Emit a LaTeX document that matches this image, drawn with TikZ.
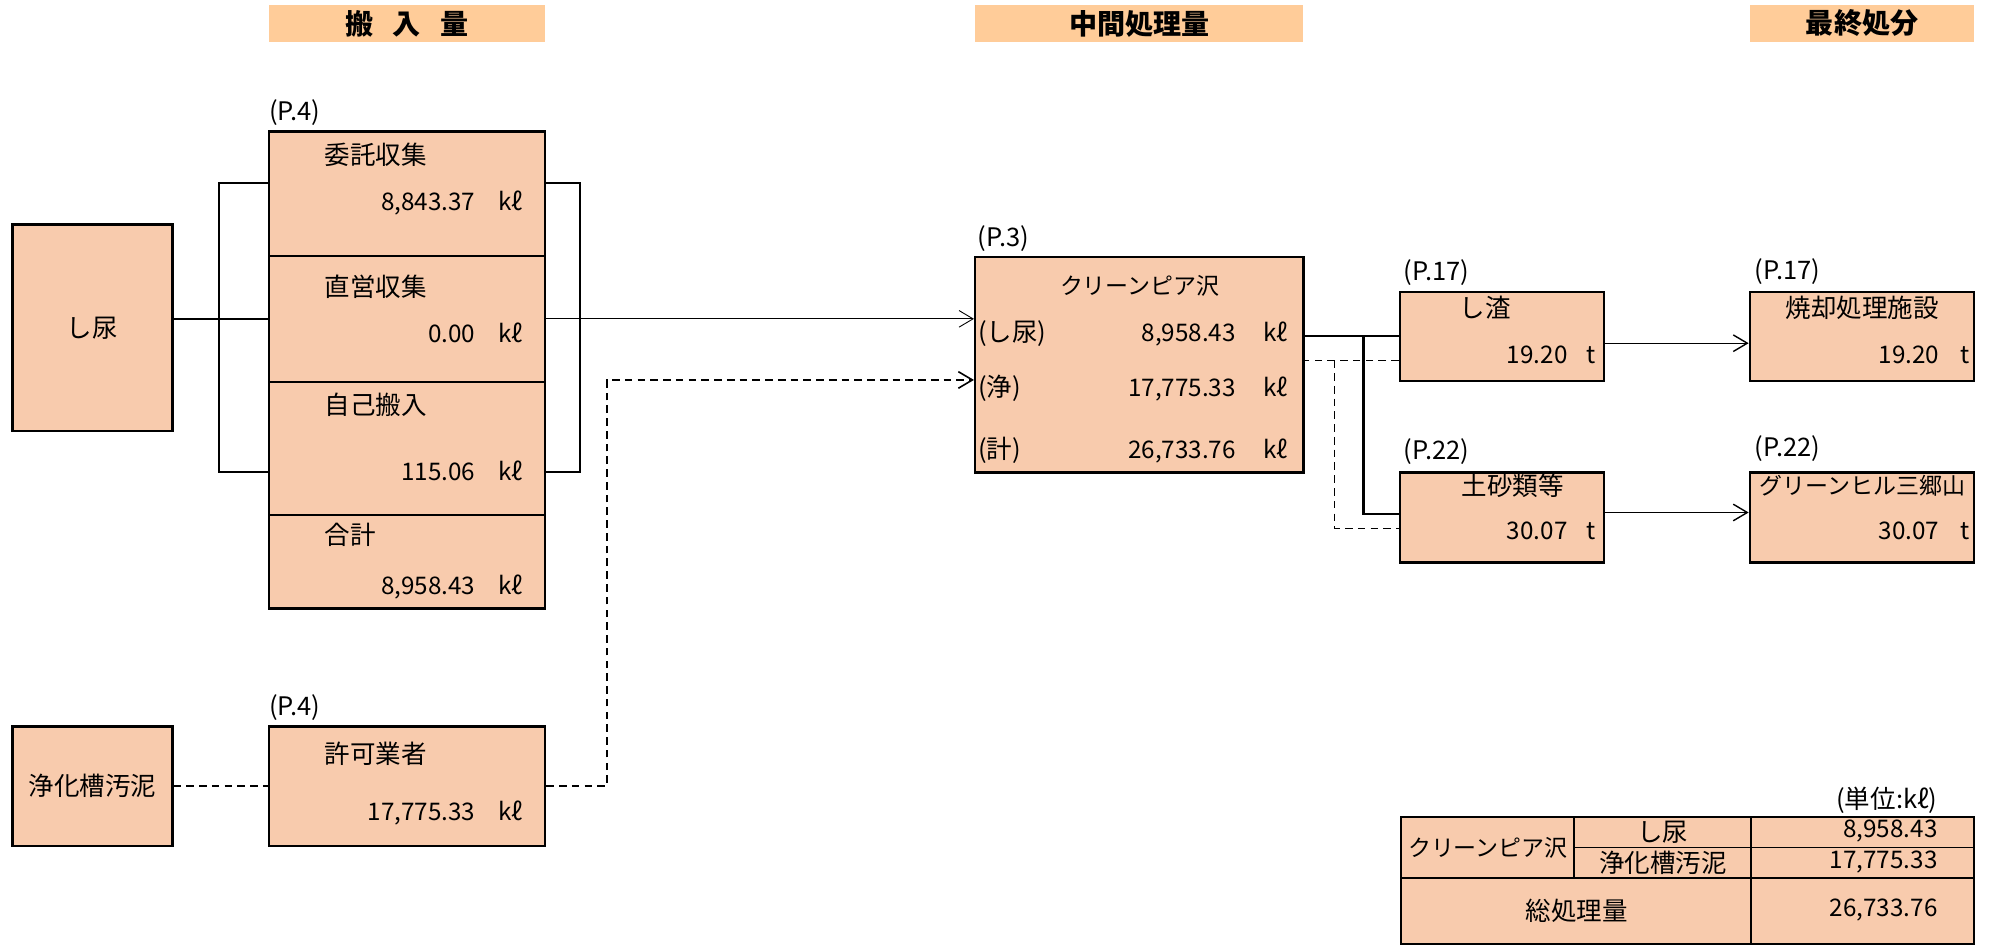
\documentclass[tikz,border=0pt]{standalone}
\usepackage{fontspec}
\setmainfont{Noto Sans CJK JP}
\usepackage{xcolor}
\usetikzlibrary{arrows.meta}
\definecolor{hdrfill}{HTML}{FFCC99}
\definecolor{boxfill}{HTML}{F8CBAD}

\begin{document}
\begin{tikzpicture}[x=1pt, y=-1pt,
    header/.style={fill=hdrfill, minimum height=28.8pt, inner sep=0pt,
        font=\fontsize{22}{24}\selectfont\bfseries},
    cell/.style={draw, line width=1.8pt, fill=boxfill, inner sep=0pt,
        font=\fontsize{20}{22}\selectfont},
    tcell/.style={draw, line width=1pt, fill=boxfill, inner sep=0pt,
        font=\fontsize{20}{22}\selectfont},
    txt/.style={inner sep=0pt, text height=0.85em, text depth=0.12em,
        font=\fontsize{20}{22}\selectfont},
    kata/.style={txt, font=\fontsize{18}{20}\selectfont},
    num/.style={txt, font=\fontsize{19}{21}\selectfont},
    link/.style={line width=1.7pt},
    flow/.style={line width=0.7pt, -{Straight Barb[length=11pt, width=13pt]}},
    flowb/.style={line width=1.1pt, -{Straight Barb[length=11pt, width=13pt]}},
    sludge/.style={line width=1.25pt, dash pattern=on 6pt off 4pt}]
\useasboundingbox (0,0) rectangle (1560,741);

% headers
\node[header, minimum width=216.7pt] (hdrIn) at (319,18.4) {搬\hspace{0.7em}入\hspace{0.7em}量};
\node[header, minimum width=257.4pt] (hdrMid) at (893.1,18.4) {中間処理量};
\node[header, minimum width=176pt] (hdrEnd) at (1459.7,18.4) {最終処分};

% sources
\node[cell, minimum width=125.3pt, minimum height=162pt] (shinyo) at (72.5,257) {し尿};
\node[cell, minimum width=125.3pt, minimum height=93.4pt] (joka) at (72.5,616.3) {浄化槽汚泥};

% intake
\node[txt, anchor=west] (pIn) at (210.7,90.5) {(P.4)};
\node[cell, minimum width=216.7pt, minimum height=97.7pt] (itaku) at (319,151.85) {};
\node[cell, minimum width=216.7pt, minimum height=98.5pt] (chokuei) at (319,249.95) {};
\node[cell, minimum width=216.7pt, minimum height=104.5pt] (jiko) at (319,351.45) {};
\node[cell, minimum width=216.7pt, minimum height=73.3pt] (goukei) at (319,440.35) {};
\node[txt, anchor=west] (itakuT) at (254.5,125) {委託収集};
\node[num, anchor=east] (itakuN) at (372.8,161) {8,843.37};
\node[num, anchor=west] (itakuU) at (390.6,161) {kℓ};
\node[txt, anchor=west] (chokueiT) at (254.5,228.5) {直営収集};
\node[num, anchor=east] (chokueiN) at (372.8,265) {0.00};
\node[num, anchor=west] (chokueiU) at (390.6,265) {kℓ};
\node[txt, anchor=west] (jikoT) at (254.5,321) {自己搬入};
\node[num, anchor=east] (jikoN) at (372.8,373) {115.06};
\node[num, anchor=west] (jikoU) at (390.6,373) {kℓ};
\node[txt, anchor=west] (goukeiT) at (254.5,423) {合計};
\node[num, anchor=east] (goukeiN) at (372.8,462) {8,958.43};
\node[num, anchor=west] (goukeiU) at (390.6,462) {kℓ};

\node[txt, anchor=west] (pKyoka) at (210.7,557.6) {(P.4)};
\node[cell, minimum width=216.7pt, minimum height=93.4pt] (kyoka) at (319,616.3) {};
\node[txt, anchor=west] (kyokaT) at (254.5,594.5) {許可業者};
\node[num, anchor=east] (kyokaN) at (372.8,639.5) {17,775.33};
\node[num, anchor=west] (kyokaU) at (390.6,639.5) {kℓ};

% intermediate treatment
\node[txt, anchor=west] (pMid) at (766,189.5) {(P.3)};
\node[cell, minimum width=257.4pt, minimum height=169.3pt] (clean) at (893.1,285.85) {};
\node[kata] (cleanT) at (893.5,227) {クリーンピア沢};
\node[txt, anchor=west] (cleanA) at (766.5,264) {(し尿)};
\node[num, anchor=east] (cleanAN) at (969,264) {8,958.43};
\node[num, anchor=west] (cleanAU) at (990,264) {kℓ};
\node[txt, anchor=west] (cleanB) at (766.5,307) {(浄)};
\node[num, anchor=east] (cleanBN) at (969,307) {17,775.33};
\node[num, anchor=west] (cleanBU) at (990,307) {kℓ};
\node[txt, anchor=west] (cleanC) at (766.5,355.4) {(計)};
\node[num, anchor=east] (cleanCN) at (969,355.4) {26,733.76};
\node[num, anchor=west] (cleanCU) at (990,355.4) {kℓ};

% residues
\node[txt, anchor=west] (pShisa) at (1100,216.5) {(P.17)};
\node[cell, minimum width=160pt, minimum height=69.7pt] (shisa) at (1177.4,263.55) {};
\node[txt, anchor=west] (shisaT) at (1144,245.5) {し渣};
\node[num, anchor=east] (shisaN) at (1229,281) {19.20};
\node[num, anchor=west] (shisaU) at (1243.5,281) {t};
\node[txt, anchor=west] (pDosha) at (1100,356.4) {(P.22)};
\node[cell, minimum width=160pt, minimum height=70.5pt] (dosha) at (1177.4,405.75) {};
\node[txt, anchor=west] (doshaT) at (1145.6,384.8) {土砂類等};
\node[num, anchor=east] (doshaN) at (1229,419.6) {30.07};
\node[num, anchor=west] (doshaU) at (1243.5,419.6) {t};

% final disposal
\node[txt, anchor=west] (pShokyaku) at (1375.5,215.8) {(P.17)};
\node[cell, minimum width=176pt, minimum height=69.7pt] (shokyaku) at (1459.7,263.55) {};
\node[txt] (shokyakuT) at (1460,245.5) {焼却処理施設};
\node[num, anchor=east] (shokyakuN) at (1520.5,281) {19.20};
\node[num, anchor=west] (shokyakuU) at (1537,281) {t};
\node[txt, anchor=west] (pGreen) at (1375.5,354) {(P.22)};
\node[cell, minimum width=176pt, minimum height=70.5pt] (green) at (1459.7,405.75) {};
\node[kata] (greenT) at (1460,384.3) {グリーンヒル三郷山};
\node[num, anchor=east] (greenN) at (1520.5,419.6) {30.07};
\node[num, anchor=west] (greenU) at (1537,419.6) {t};

% connectors
\draw[link] (shinyo.east |- chokuei.west) -- (chokuei.west);
\draw[link] ([yshift=8.15pt]itaku.west) -- ++(-38,0) |- ([yshift=-18.35pt]jiko.west);
\draw[link] ([yshift=8.15pt]itaku.east) -- ++(26.4,0) |- ([yshift=-18.35pt]jiko.east);
\draw[flow] (chokuei.east) -- (chokuei.east -| clean.west);
\draw[sludge] (joka) -- (kyoka);
\draw[sludge, -{Straight Barb[length=11pt, width=13pt]}] (kyoka.east) -- ++(47.5,0) |- ([yshift=-12pt]clean.west);
\draw[link] (clean.east |- shisa.west) -- (shisa.west);
\draw[link] (clean.east |- shisa.west) ++(46.2,0) |- ([yshift=2.5pt]dosha.west);
\draw[sludge] ([yshift=-19pt]shisa.west) -- ++(-75.6,0);
\draw[sludge] ([yshift=-19pt]shisa.west) ++(-50.4,0) |- ([yshift=-8.5pt]dosha.west);
\draw[flowb] ([yshift=-5.5pt]shisa.east) -- ([yshift=-5.5pt]shokyaku.west);
\draw[flowb] ([yshift=4pt]dosha.east) -- ([yshift=4pt]green.west);

% summary table
\node[txt, anchor=east] (unit) at (1519,629.8) {(単位:kℓ)};
\node[tcell, minimum width=135.1pt, minimum height=47.9pt, font=\fontsize{18}{20}\selectfont] (tclean) at (1166.35,664.65) {クリーンピア沢};
\node[tcell, minimum width=139.3pt, minimum height=23.6pt] (tshinyo) at (1303.55,652.5) {し尿};
\node[tcell, minimum width=139.3pt, minimum height=24.3pt] (tjoka) at (1303.55,676.45) {浄化槽汚泥};
\node[tcell, minimum width=173.8pt, minimum height=23.6pt] (tval1) at (1460.1,652.5) {};
\node[tcell, minimum width=173.8pt, minimum height=24.3pt] (tval2) at (1460.1,676.45) {};
\node[tcell, minimum width=274.4pt, minimum height=50.9pt] (ttotal) at (1236,714.05) {総処理量};
\node[tcell, minimum width=173.8pt, minimum height=50.9pt] (tvaltot) at (1460.1,714.05) {};
\draw[line width=1.8pt] (tclean.north west) rectangle (tvaltot.south east);
\draw[line width=1.8pt] (tval1.north west) -- (tvaltot.south west);
\draw[line width=1.8pt] (ttotal.north west) -- (tvaltot.north east);
\node[num, anchor=east] (tval1N) at (1519,653) {8,958.43};
\node[num, anchor=east] (tval2N) at (1519,676.8) {17,775.33};
\node[num, anchor=east] (tvaltotN) at (1519,714.7) {26,733.76};
\end{tikzpicture}
\end{document}
